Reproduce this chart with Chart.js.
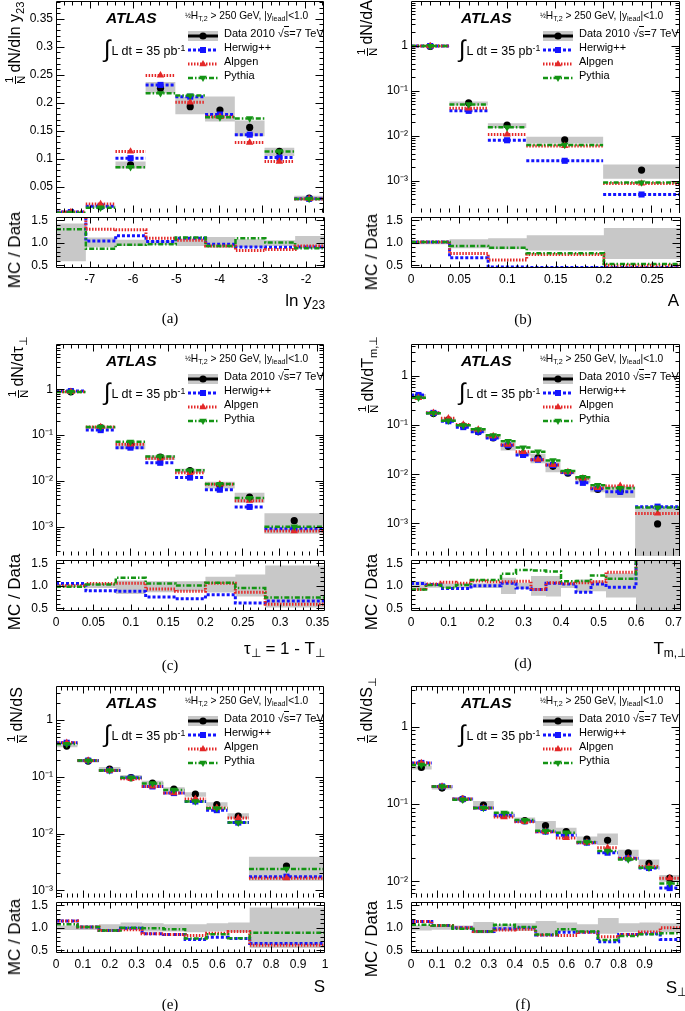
<!DOCTYPE html>
<html><head><meta charset="utf-8">
<script src="https://cdn.jsdelivr.net/npm/chart.js@4.4.1/dist/chart.umd.min.js"></script>
<style>
html,body{margin:0;padding:0;background:#fff;}
body{position:relative;width:685px;height:1011px;overflow:hidden;font-family:"Liberation Sans",Arial,Helvetica,sans-serif;color:#000;}
canvas{position:absolute;}
.t{position:absolute;white-space:nowrap;}
.sub{font-size:70%;position:relative;top:0.32em;}
.sup{font-size:70%;position:relative;top:-0.45em;}
.frac{display:inline-flex;flex-direction:column;align-items:center;vertical-align:middle;font-size:72%;line-height:1.0;margin-right:3px;}
.frac span:first-child{border-bottom:1px solid #000;padding:0 1px;}
</style></head><body>
<script>
// ================= DATA =================
// (a) ln y23
const aEdges = [-7.78,-7.09,-6.40,-5.70,-5.01,-4.32,-3.63,-2.94,-2.25,-1.56];
const aData   = [0.0025,0.0145,0.089,0.226,0.193,0.187,0.156,0.113,0.0296];
const aHerwig = [0.0047,0.0150,0.101,0.232,0.211,0.179,0.143,0.102,0.0284];
const aAlpgen = [0.0047,0.0190,0.113,0.249,0.201,0.175,0.129,0.095,0.0282];
const aPythia = [0.0033,0.0126,0.085,0.217,0.213,0.174,0.172,0.113,0.0280];
const aBandLo = [0.59,0.90,0.93,0.96,0.93,0.89,0.90,0.93,0.88];
const aBandHi = [1.43,1.12,1.07,1.05,1.09,1.13,1.08,1.06,1.15];
const aRatioHerwig = [1.90,1.04,1.16,1.03,1.10,0.97,0.91,0.90,0.91];
const aRatioAlpgen = [1.90,1.30,1.29,1.10,1.06,0.93,0.83,0.85,0.93];
const aRatioPythia = [1.30,0.87,0.96,0.97,1.12,0.93,1.10,1.01,0.88];
const aXTicks = [-7,-6,-5,-4,-3,-2];
const aXLabels = ['-7','-6','-5','-4','-3','-2'];
const aYTicks = [0.05,0.1,0.15,0.2,0.25,0.3,0.35];
const aYLabels = ['0.05','0.1','0.15','0.2','0.25','0.3','0.35'];

// (b) A
const bEdges = [0,0.04,0.08,0.12,0.2,0.28];
const bData   = [0.97,0.054,0.0174,0.0082,0.00174];
const bHerwig = [0.99,0.036,0.0080,0.0028,0.00050];
const bAlpgen = [0.99,0.041,0.0108,0.0060,0.00088];
const bPythia = [0.99,0.050,0.0155,0.0063,0.00092];
const bBandLo = [0.97,0.88,0.86,0.83,0.64];
const bBandHi = [1.03,1.08,1.10,1.17,1.33];
const bRatioHerwig = [1.02,0.67,0.46,0.45,0.45];
const bRatioAlpgen = [1.02,0.76,0.62,0.74,0.50];
const bRatioPythia = [1.02,0.93,0.89,0.77,0.53];
const bXTicks = [0,0.05,0.1,0.15,0.2,0.25];
const bXLabels = ['0','0.05','0.1','0.15','0.2','0.25'];

// (c) tau_perp
const cEdges = [0,0.04,0.08,0.12,0.16,0.2,0.24,0.28,0.36];
const cData   = [0.88,0.145,0.060,0.033,0.0168,0.0080,0.0044,0.00135];
const cHerwig = [0.91,0.128,0.053,0.0248,0.0118,0.0064,0.0027,0.00090];
const cAlpgen = [0.88,0.150,0.063,0.031,0.0150,0.0084,0.0037,0.00080];
const cPythia = [0.87,0.150,0.071,0.034,0.0170,0.0085,0.0042,0.00100];
const cBandLo = [0.97,0.95,0.82,0.86,0.88,0.85,0.76,0.52];
const cBandHi = [1.03,1.05,1.12,1.10,1.10,1.20,1.25,1.45];
const cRatioHerwig = [1.05,0.89,0.88,0.75,0.71,0.80,0.62,0.66];
const cRatioAlpgen = [1.00,1.05,1.06,0.93,0.88,1.06,0.86,0.59];
const cRatioPythia = [0.98,1.03,1.18,1.05,1.01,1.07,0.95,0.74];
const cXTicks = [0,0.05,0.1,0.15,0.2,0.25,0.3,0.35];
const cXLabels = ['0','0.05','0.1','0.15','0.2','0.25','0.3','0.35'];

// (d) T_m,perp
const dEdges = [0,0.04,0.08,0.12,0.16,0.2,0.24,0.28,0.32,0.36,0.4,0.44,0.48,0.52,0.6,0.72];
const dData   = [0.39,0.172,0.128,0.097,0.073,0.055,0.037,0.026,0.0215,0.0145,0.0105,0.0078,0.0049,0.0045,0.00098];
const dHerwig = [0.41,0.177,0.120,0.091,0.073,0.055,0.039,0.0247,0.0198,0.0154,0.0109,0.0067,0.0051,0.0044,0.0022];
const dAlpgen = [0.36,0.179,0.138,0.103,0.081,0.060,0.040,0.0286,0.0198,0.0155,0.0111,0.0083,0.0053,0.0058,0.0016];
const dPythia = [0.36,0.175,0.123,0.099,0.082,0.062,0.047,0.035,0.0288,0.0191,0.0116,0.0087,0.0060,0.0052,0.0021];
const dBandLo = [0.90,0.96,0.95,0.95,0.95,0.95,0.82,0.93,0.78,0.76,0.95,0.86,0.88,0.74,0.10];
const dBandHi = [1.10,1.05,1.05,1.06,1.06,1.06,1.18,1.07,1.22,1.22,1.05,1.14,1.12,1.28,2.10];
const dRatioHerwig = [1.05,1.03,0.94,0.94,1.00,1.00,1.06,0.95,0.92,1.06,1.04,0.86,1.04,0.97,2.30];
const dRatioAlpgen = [0.92,1.04,1.08,1.06,1.11,1.09,1.09,1.10,0.92,1.07,1.06,1.07,1.09,1.30,1.60];
const dRatioPythia = [0.92,1.02,0.96,1.02,1.13,1.13,1.27,1.35,1.34,1.32,1.10,1.11,1.23,1.16,2.20];
const dXTicks = [0,0.1,0.2,0.3,0.4,0.5,0.6,0.7];
const dXLabels = ['0','0.1','0.2','0.3','0.4','0.5','0.6','0.7'];

// (e) S
const eEdges = [0,0.08,0.16,0.24,0.32,0.40,0.48,0.56,0.64,0.72,1.0];
const eData   = [0.35,0.190,0.138,0.097,0.078,0.061,0.0497,0.0325,0.0205,0.0027];
const eHerwig = [0.40,0.194,0.130,0.097,0.068,0.052,0.037,0.026,0.0157,0.00175];
const eAlpgen = [0.40,0.194,0.130,0.093,0.068,0.052,0.041,0.0285,0.0189,0.00165];
const ePythia = [0.38,0.194,0.130,0.097,0.077,0.059,0.037,0.028,0.0157,0.0024];
const eBandLo = [0.95,0.95,0.92,0.95,0.92,0.92,0.90,0.92,0.90,0.55];
const eBandHi = [1.05,1.05,1.08,1.12,1.10,1.08,1.08,1.10,1.12,1.45];
const eRatioHerwig = [1.15,1.02,0.94,0.99,0.87,0.85,0.74,0.79,0.76,0.65];
const eRatioAlpgen = [1.15,1.02,0.94,0.96,0.87,0.85,0.83,0.88,0.92,0.61];
const eRatioPythia = [1.08,1.02,0.94,1.00,0.99,0.97,0.76,0.86,0.77,0.89];
const eXTicks = [0,0.1,0.2,0.3,0.4,0.5,0.6,0.7,0.8,0.9,1];
const eXLabels = ['0','0.1','0.2','0.3','0.4','0.5','0.6','0.7','0.8','0.9','1'];

// (f) S_perp
const fEdges = [0,0.08,0.16,0.24,0.32,0.40,0.48,0.56,0.64,0.72,0.80,0.88,0.96,1.04];
const fData   = [0.298,0.161,0.116,0.097,0.072,0.061,0.0526,0.044,0.0352,0.034,0.0234,0.0171,0.011];
const fHerwig = [0.34,0.169,0.116,0.089,0.071,0.060,0.044,0.0396,0.0317,0.0235,0.0199,0.0149,0.0082];
const fAlpgen = [0.34,0.169,0.116,0.089,0.068,0.059,0.044,0.0365,0.0317,0.0272,0.0199,0.0156,0.0110];
const fPythia = [0.32,0.169,0.114,0.089,0.077,0.062,0.045,0.0427,0.0324,0.0248,0.0192,0.0150,0.0094];
const fBandLo = [0.94,0.96,0.96,0.88,0.93,0.93,0.88,0.92,0.92,0.87,0.90,0.90,0.90];
const fBandHi = [1.06,1.04,1.05,1.13,1.08,1.10,1.15,1.12,1.08,1.22,1.10,1.12,1.10];
const fRatioHerwig = [1.14,1.05,1.00,0.92,0.98,1.00,0.84,0.90,0.90,0.69,0.85,0.87,0.74];
const fRatioAlpgen = [1.14,1.05,1.00,0.92,0.95,0.97,0.84,0.83,0.90,0.80,0.85,0.91,1.00];
const fRatioPythia = [1.07,1.05,0.98,0.92,1.07,1.02,0.85,0.97,0.92,0.73,0.82,0.86,0.88];
const fXTicks = [0,0.1,0.2,0.3,0.4,0.5,0.6,0.7,0.8,0.9];
const fXLabels = ['0','0.1','0.2','0.3','0.4','0.5','0.6','0.7','0.8','0.9'];

// shared tick labels
const logYTicks3 = [0.001,0.01,0.1,1];
const logYLabels3 = ['10\u207B\u00B3','10\u207B\u00B2','10\u207B\u00B9','1'];
const logYTicks2 = [0.01,0.1,1];
const logYLabels2 = ['10\u207B\u00B2','10\u207B\u00B9','1'];
const ratioYTicks = [0.5,1,1.5];
const ratioYLabels = ['0.5','1.0','1.5'];

const legendHeader = '<span style="font-size:7px;vertical-align:1px">\u00BD</span>H<span class="sub">T,2</span> &gt; 250 GeV, |y<span class="sub">lead</span>|&lt;1.0';
const legendNames = ['Data 2010 \u221A<span style="border-top:1px solid #000">s</span>=7 TeV','Herwig++','Alpgen','Pythia'];

// ================= LAYOUT / STYLE =================
const COLS = [{cl:0, L:56, R:325}, {cl:345, L:411, R:681}];
const ROWS = [0, 343, 685];
const MAIN_H = 217, RATIO_H = 51;
const BLUE = '#1414ff', RED = '#e42828', GREEN = '#149414', GRAY = '#c8c8c8';
const STY = {
  herwig: {color: BLUE, dash: [3,2], width: 3, point: 'rect', r: 4.3, rot: 0},
  alpgen: {color: RED, dash: [1.5,1.5], width: 3, point: 'triangle', r: 4.3, rot: 0},
  pythia: {color: GREEN, dash: [5,2,1.5,2], width: 2.5, point: 'triangle', r: 4.3, rot: 180}
};
Chart.defaults.font.family = '"Liberation Sans", Arial, Helvetica, sans-serif';
Chart.defaults.font.size = 12;
Chart.defaults.color = '#000';

const YT = (inner) => '<span class="frac"><span>1</span><span>N</span></span>' + inner;
const panels = [
 {col:0,row:0, edges:aEdges,data:aData,herwig:aHerwig,alpgen:aAlpgen,pythia:aPythia,bandLo:aBandLo,bandHi:aBandHi,rH:aRatioHerwig,rA:aRatioAlpgen,rP:aRatioPythia,
  xMin:-7.78,xMax:-1.56,xTicks:aXTicks,xLabels:aXLabels,xMinor:0.2, yLog:false,yMin:0.003,yMax:0.382,yTicks:aYTicks,yLabels:aYLabels,yMinor:0.01,
  yTitle:YT('dN/dln y<span class="sub">23</span>'), yTitleX:15, yTitleStart:84, rTitleY:250,
  xTitle:'ln y<span class="sub">23</span>', xTitleR:325, xTitleY:300, label:'(a)', labelX:170, labelY:318},
 {col:1,row:0, edges:bEdges,data:bData,herwig:bHerwig,alpgen:bAlpgen,pythia:bPythia,bandLo:bBandLo,bandHi:bBandHi,rH:bRatioHerwig,rA:bRatioAlpgen,rP:bRatioPythia,
  xMin:0,xMax:0.28,xTicks:bXTicks,xLabels:bXLabels,xMinor:0.01, yLog:true,yMin:1.94e-4,yMax:9.9,yTicks:logYTicks3,yLabels:logYLabels3,
  yTitle:YT('dN/dA'), yTitleX:367, yTitleStart:56, rTitleY:252,
  xTitle:'A', xTitleR:679, xTitleY:300, label:'(b)', labelX:523, labelY:319},
 {col:0,row:1, edges:cEdges,data:cData,herwig:cHerwig,alpgen:cAlpgen,pythia:cPythia,bandLo:cBandLo,bandHi:cBandHi,rH:cRatioHerwig,rA:cRatioAlpgen,rP:cRatioPythia,
  xMin:0,xMax:0.36,xTicks:cXTicks,xLabels:cXLabels,xMinor:0.01, yLog:true,yMin:2.29e-4,yMax:9.7,yTicks:logYTicks3,yLabels:logYLabels3,
  yTitle:YT('dN/d\u03C4<span class="sub">\u22A5</span>'), yTitleX:18, yTitleStart:398, rTitleY:592,
  xTitle:'\u03C4<span class="sub">\u22A5</span> = 1 - T<span class="sub">\u22A5</span>', xTitleR:325, xTitleY:648, label:'(c)', labelX:170, labelY:665},
 {col:1,row:1, edges:dEdges,data:dData,herwig:dHerwig,alpgen:dAlpgen,pythia:dPythia,bandLo:dBandLo,bandHi:dBandHi,rH:dRatioHerwig,rA:dRatioAlpgen,rP:dRatioPythia,
  xMin:0,xMax:0.72,xTicks:dXTicks,xLabels:dXLabels,xMinor:0.02, yLog:true,yMin:2.18e-4,yMax:4.46,yTicks:logYTicks3,yLabels:logYLabels3,
  yTitle:YT('dN/dT<span class="sub">m,\u22A5</span>'), yTitleX:368, yTitleStart:413, rTitleY:592,
  xTitle:'T<span class="sub">m,\u22A5</span>', xTitleR:687, xTitleY:648, label:'(d)', labelX:523, labelY:663},
 {col:0,row:2, edges:eEdges,data:eData,herwig:eHerwig,alpgen:eAlpgen,pythia:ePythia,bandLo:eBandLo,bandHi:eBandHi,rH:eRatioHerwig,rA:eRatioAlpgen,rP:eRatioPythia,
  xMin:0,xMax:1.0,xTicks:eXTicks,xLabels:eXLabels,xMinor:0.02, yLog:true,yMin:7.37e-4,yMax:4.0,yTicks:logYTicks3,yLabels:logYLabels3,
  yTitle:YT('dN/dS'), yTitleX:17, yTitleStart:743, rTitleY:937,
  xTitle:'S', xTitleR:325, xTitleY:986, label:'(e)', labelX:170, labelY:1004},
 {col:1,row:2, edges:fEdges,data:fData,herwig:fHerwig,alpgen:fAlpgen,pythia:fPythia,bandLo:fBandLo,bandHi:fBandHi,rH:fRatioHerwig,rA:fRatioAlpgen,rP:fRatioPythia,
  xMin:0,xMax:1.04,xTicks:fXTicks,xLabels:fXLabels,xMinor:0.02, yLog:true,yMin:6.1e-3,yMax:3.36,yTicks:logYTicks2,yLabels:logYLabels2,
  yTitle:YT('dN/dS<span class="sub">\u22A5</span>'), yTitleX:367, yTitleStart:743, rTitleY:939,
  xTitle:'S<span class="sub">\u22A5</span>', xTitleR:687, xTitleY:987, label:'(f)', labelX:523, labelY:1004}
];

// ================= HELPERS =================
function segPts(edges, vals){ const o=[]; vals.forEach((v,i)=>{ const lo=edges[i],hi=edges[i+1]; o.push({x:lo,y:v},{x:(lo+hi)/2,y:v,c:1},{x:hi,y:v},{x:hi,y:null}); }); return o; }
function stepPts(edges, vals){ const o=[]; vals.forEach((v,i)=>{ o.push({x:edges[i],y:v},{x:edges[i+1],y:v}); }); return o; }
function ctrPts(edges, vals){ return vals.map((v,i)=>({x:(edges[i]+edges[i+1])/2,y:v})); }
function mul(a,b){ return a.map((v,i)=>v*b[i]); }
function linTicks(min,max,step){ const o=[]; const k0=Math.ceil(min/step-1e-6), k1=Math.floor(max/step+1e-6); for(let k=k0;k<=k1;k++) o.push(k*step); return o; }
function logTicks(min,max){ const o=[]; for(let e=Math.floor(Math.log10(min)); e<=Math.ceil(Math.log10(max)); e++) for(let m=1;m<10;m++){ const v=m*Math.pow(10,e); if(v>=min&&v<=max) o.push(v);} return o; }

const framePlugin = {
  id: 'frame',
  afterDraw(chart, args, o) {
    const {ctx, chartArea: a} = chart; const xs = chart.scales.x, ys = chart.scales.y;
    const L = a.left + 0.5, R = a.right - 0.5, T = a.top + 0.5, B = a.bottom - 0.5;
    ctx.save(); ctx.strokeStyle = '#000'; ctx.lineWidth = 1; ctx.beginPath();
    ctx.moveTo(L, B + (o.noBottom ? 0.5 : 0)); ctx.lineTo(L, T); ctx.lineTo(R, T); ctx.lineTo(R, B + (o.noBottom ? 0.5 : 0));
    if (!o.noBottom) ctx.lineTo(L, B);
    const tx = (vals, len) => vals.forEach(v => { const p = Math.round(xs.getPixelForValue(v)) + 0.5; if (p < L + 1 || p > R - 1) return; ctx.moveTo(p, B); ctx.lineTo(p, B - len); ctx.moveTo(p, T); ctx.lineTo(p, T + len); });
    const ty = (vals, len) => vals.forEach(v => { const p = Math.round(ys.getPixelForValue(v)) + 0.5; if (p < T + 1 || p > B - 1) return; ctx.moveTo(L, p); ctx.lineTo(L + len, p); ctx.moveTo(R, p); ctx.lineTo(R - len, p); });
    tx(o.xMinor, o.xLen[1]); tx(o.xMajor, o.xLen[0]);
    ty(o.yMinor, o.yLen[1]); ty(o.yMajor, o.yLen[0]);
    ctx.stroke(); ctx.restore();
  }
};

function mcLine(vals, edges, s, step){
  return step ? {data: stepPts(edges, vals), borderColor: s.color, borderWidth: s.width, borderDash: s.dash, pointRadius: 0, fill: false}
              : {data: segPts(edges, vals), borderColor: s.color, borderWidth: s.width, borderDash: s.dash, fill: false,
                 pointStyle: s.point, pointRotation: s.rot, pointBackgroundColor: s.color, pointBorderWidth: 0,
                 pointRadius: (ctx) => (ctx.raw && ctx.raw.c) ? s.r : 0};
}

function addCanvas(left, top, w, h){
  const cv = document.createElement('canvas'); cv.width = w; cv.height = h;
  cv.style.left = left + 'px'; cv.style.top = top + 'px'; cv.style.width = w + 'px'; cv.style.height = h + 'px';
  document.body.appendChild(cv); return cv;
}

function yScale(p, yw, ratio){
  const ticks = ratio ? ratioYTicks : p.yTicks, labels = ratio ? ratioYLabels : p.yLabels;
  return {type: (!ratio && p.yLog) ? 'logarithmic' : 'linear', bounds: 'data',
    min: ratio ? 0.44 : p.yMin, max: ratio ? 1.575 : p.yMax,
    grid: {display: false, drawTicks: false}, border: {display: false},
    ticks: {autoSkip: false, padding: ratio ? 8 : 3, color: '#000', font: {size: 12}, callback: (v, i) => labels[i]},
    afterBuildTicks: s => { s.ticks = ticks.map(v => ({value: v})); },
    afterFit: s => { s.width = yw; s.paddingTop = 0; s.paddingBottom = 0; }};
}

function makeMain(p){
  const c = COLS[p.col], T = ROWS[p.row], padT = 3, padR = 3;
  const cv = addCanvas(c.cl, T - padT, c.R + padR - c.cl, padT + MAIN_H);
  const ds = [
    mcLine(p.pythia, p.edges, STY.pythia, false),
    mcLine(p.alpgen, p.edges, STY.alpgen, false),
    mcLine(p.herwig, p.edges, STY.herwig, false),
    {data: ctrPts(p.edges, p.data), showLine: false, pointRadius: 3.6, pointStyle: 'circle', pointBackgroundColor: '#000', pointBorderWidth: 0},
    {data: stepPts(p.edges, mul(p.data, p.bandHi)), borderWidth: 0, pointRadius: 0, fill: '+1', backgroundColor: GRAY},
    {data: stepPts(p.edges, mul(p.data, p.bandLo)), borderWidth: 0, pointRadius: 0, fill: false}
  ];
  new Chart(cv, {type: 'line', data: {datasets: ds}, plugins: [framePlugin], options: {
    responsive: false, animation: false, events: [], devicePixelRatio: 1,
    layout: {padding: {top: padT, right: padR, left: 0, bottom: 0}},
    plugins: {legend: {display: false}, tooltip: {enabled: false},
      frame: {noBottom: true, xMajor: p.xTicks, xMinor: linTicks(p.xMin, p.xMax, p.xMinor), xLen: [7, 4],
              yMajor: p.yTicks, yMinor: p.yLog ? logTicks(p.yMin, p.yMax) : linTicks(p.yMin, p.yMax, p.yMinor), yLen: [8, 4]}},
    scales: {x: {type: 'linear', display: false, bounds: 'data', min: p.xMin, max: p.xMax}, y: yScale(p, c.L - c.cl, false)}
  }});
}

function makeRatio(p){
  const c = COLS[p.col], T = ROWS[p.row] + MAIN_H, padT = 2, padR = 7, xh = 24;
  const cv = addCanvas(c.cl, T - padT, c.R + padR - c.cl, padT + RATIO_H + xh);
  const ds = [
    mcLine(p.rP, p.edges, STY.pythia, true),
    mcLine(p.rA, p.edges, STY.alpgen, true),
    mcLine(p.rH, p.edges, STY.herwig, true),
    {data: stepPts(p.edges, p.bandHi), borderWidth: 0, pointRadius: 0, fill: '+1', backgroundColor: GRAY},
    {data: stepPts(p.edges, p.bandLo), borderWidth: 0, pointRadius: 0, fill: false}
  ];
  new Chart(cv, {type: 'line', data: {datasets: ds}, plugins: [framePlugin], options: {
    responsive: false, animation: false, events: [], devicePixelRatio: 1,
    layout: {padding: {top: padT, right: padR, left: 0, bottom: 0}},
    plugins: {legend: {display: false}, tooltip: {enabled: false},
      frame: {noBottom: false, xMajor: p.xTicks, xMinor: linTicks(p.xMin, p.xMax, p.xMinor), xLen: [6, 3],
              yMajor: ratioYTicks, yMinor: linTicks(0.44, 1.575, 0.1), yLen: [8, 4]}},
    scales: {
      x: {type: 'linear', bounds: 'data', min: p.xMin, max: p.xMax,
          grid: {display: false, drawTicks: false}, border: {display: false},
          ticks: {autoSkip: false, maxRotation: 0, padding: 4, color: '#000', font: {size: 12}, callback: (v, i) => p.xLabels[i]},
          afterBuildTicks: s => { s.ticks = p.xTicks.map(v => ({value: v})); },
          afterFit: s => { s.height = xh; s.paddingLeft = 0; s.paddingRight = 0; }},
      y: yScale(p, c.L - c.cl, true)}
  }});
}

function txt(html, x, cy, size, extra, anchor){
  const d = document.createElement('div'); d.className = 't';
  let pos = anchor === 'right' ? `right:${685 - x}px;` : anchor === 'center' ? `left:${x}px;transform:translateX(-50%);` : `left:${x}px;`;
  d.style.cssText = `font-size:${size}px;line-height:${size}px;top:${cy - size/2}px;` + pos + (extra || '');
  d.innerHTML = html; document.body.appendChild(d); return d;
}
function rot(html, cx, y, size, centered){
  const d = document.createElement('div'); d.className = 't'; const H = Math.round(size * 1.6);
  d.style.cssText = `font-size:${size}px;line-height:${H}px;height:${H}px;left:${cx - H/2}px;top:${y}px;transform-origin:0 0;transform:rotate(-90deg)` + (centered ? ' translateX(-50%);' : ';');
  d.innerHTML = html; document.body.appendChild(d);
}
function legendSym(k){
  const line = (s) => `<line x1="0" y1="6" x2="30" y2="6" stroke="${s.color}" stroke-width="${s.width}" stroke-dasharray="${s.dash.join(' ')}"/>`;
  if (k === 0) return `<rect x="0" y="1" width="30" height="10" fill="${GRAY}"/><line x1="0" y1="6" x2="30" y2="6" stroke="#000" stroke-width="3"/><circle cx="15" cy="6" r="3.6" fill="#000"/>`;
  if (k === 1) return line(STY.herwig) + `<rect x="12" y="3" width="6" height="6" fill="${BLUE}"/>`;
  if (k === 2) return line(STY.alpgen) + `<polygon points="15,2 18.7,8.3 11.3,8.3" fill="${RED}"/>`;
  return line(STY.pythia) + `<polygon points="15,10 18.7,3.7 11.3,3.7" fill="${GREEN}"/>`;
}
function overlays(p){
  const c = COLS[p.col], T = ROWS[p.row], L = c.L;
  txt('ATLAS', L + 50, T + 18, 15.5, 'font-weight:bold;font-style:italic;');
  txt('<span style="font-size:24px;position:relative;top:2px;margin-right:1px">\u222B</span>L dt = 35 pb<span class="sup">-1</span>', L + 48, T + 47, 12.5);
  txt(legendHeader, L + 129, T + 16, 10.2);
  legendNames.forEach((n, k) => {
    const cy = T + 33.5 + 14 * k;
    const s = document.createElement('div'); s.className = 't';
    s.style.cssText = `left:${L + 132}px;top:${cy - 6}px;width:30px;height:12px;`;
    s.innerHTML = `<svg width="30" height="12" xmlns="http://www.w3.org/2000/svg">${legendSym(k)}</svg>`;
    document.body.appendChild(s);
    txt(n, L + 168, cy, 11);
  });
  rot(p.yTitle, p.yTitleX, p.yTitleStart, 16, false);
  rot('MC / Data', c.L - (p.col ? 40 : 42), p.rTitleY, 17, true);
  txt(p.xTitle, p.xTitleR, p.xTitleY, 17, '', 'right');
  txt(p.label, p.labelX, p.labelY, 15, 'font-family:"Liberation Serif","Times New Roman",serif;', 'center');
}

panels.forEach(p => { makeMain(p); makeRatio(p); overlays(p); });
</script>
</body></html>
